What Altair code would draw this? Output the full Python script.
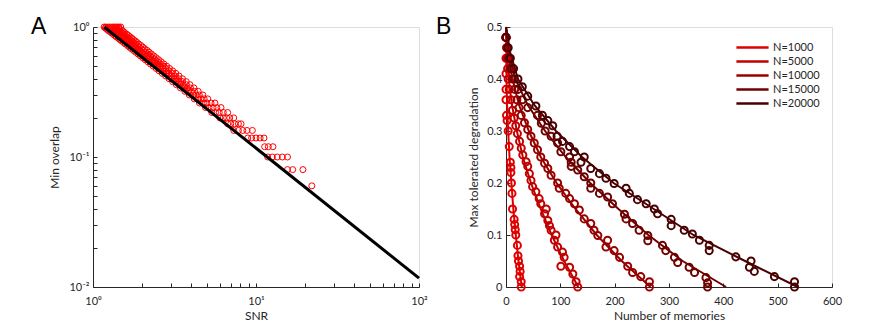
import altair as alt
import pandas as pd

# ---------------- Panel A data ----------------
snr_a = [
    1.17, 1.20, 1.24, 1.28, 1.32, 1.36, 1.40, 1.44, 1.48,
    1.19, 1.25, 1.31, 1.37, 1.44,
    1.22, 1.28, 1.34, 1.40, 1.47,
    1.24, 1.31, 1.37, 1.43, 1.51,
    1.27, 1.34, 1.40, 1.46, 1.54,
    1.30, 1.37, 1.43, 1.50, 1.57,
    1.33, 1.40, 1.46, 1.53, 1.61,
    1.36, 1.43, 1.50, 1.56, 1.65,
    1.39, 1.46, 1.53, 1.60, 1.69,
    1.43, 1.50, 1.57, 1.64, 1.73,
    1.46, 1.54, 1.61, 1.68, 1.77,
    1.50, 1.58, 1.65, 1.73, 1.82,
    1.54, 1.62, 1.69, 1.77, 1.86,
    1.58, 1.66, 1.74, 1.82, 1.91,
    1.63, 1.71, 1.79, 1.87, 1.97,
    1.67, 1.75, 1.84, 1.92, 2.02,
    1.72, 1.81, 1.89, 1.98, 2.08,
    1.77, 1.86, 1.95, 2.04, 2.15,
    1.83, 1.92, 2.01, 2.10, 2.21,
    1.89, 1.98, 2.08, 2.17, 2.28,
    1.95, 2.05, 2.15, 2.24, 2.36,
    2.02, 2.12, 2.22, 2.32, 2.44,
    2.09, 2.19, 2.30, 2.40, 2.53,
    2.17, 2.28, 2.38, 2.49, 2.62,
    2.25, 2.36, 2.48, 2.59, 2.72,
    2.34, 2.46, 2.57, 2.69, 2.83,
    2.44, 2.56, 2.68, 2.80, 2.95,
    2.54, 2.67, 2.80, 2.92, 3.08,
    2.66, 2.79, 2.92, 3.06, 3.22,
    2.79, 2.93, 3.06, 3.20, 3.37,
    2.93, 3.07, 3.22, 3.36, 3.54,
    3.08, 3.23, 3.39, 3.54, 3.73,
    3.25, 3.41, 3.58, 3.74, 3.93,
    3.44, 3.61, 3.79, 3.96, 4.16,
    3.66, 3.84, 4.02, 4.20, 4.42,
    3.90, 4.10, 4.29, 4.49, 4.72,
    4.18, 4.39, 4.60, 4.81, 5.06,
    4.50, 4.75, 5.00, 5.30, 5.60,
    4.90, 5.15, 5.45, 5.75, 6.10,
    5.35, 5.65, 5.95, 6.30, 6.70,
    6.00, 6.30, 6.60, 6.90, 7.30,
    6.70, 7.00, 7.40, 7.80, 8.10,
    7.30, 7.80, 8.30, 8.80, 9.50,
    8.90, 9.40, 10.0, 10.6, 11.2,
    11.3, 11.9, 12.7,
    11.8, 12.6, 13.5, 14.5, 15.6,
    15.6, 16.8, 19.4,
    22.0,
]
overlap_a = (
    [1.00] * 9 + [0.98] * 5 + [0.96] * 5 + [0.94] * 5 + [0.92] * 5 + [0.90] * 5
    + [0.88] * 5 + [0.86] * 5 + [0.84] * 5 + [0.82] * 5 + [0.80] * 5 + [0.78] * 5
    + [0.76] * 5 + [0.74] * 5 + [0.72] * 5 + [0.70] * 5 + [0.68] * 5 + [0.66] * 5
    + [0.64] * 5 + [0.62] * 5 + [0.60] * 5 + [0.58] * 5 + [0.56] * 5 + [0.54] * 5
    + [0.52] * 5 + [0.50] * 5 + [0.48] * 5 + [0.46] * 5 + [0.44] * 5 + [0.42] * 5
    + [0.40] * 5 + [0.38] * 5 + [0.36] * 5 + [0.34] * 5 + [0.32] * 5 + [0.30] * 5
    + [0.28] * 5 + [0.26] * 5 + [0.24] * 5 + [0.22] * 5 + [0.20] * 5 + [0.18] * 5
    + [0.16] * 5 + [0.14] * 5 + [0.12] * 3 + [0.10] * 5 + [0.08] * 3 + [0.06] * 1
)
fit_snr = [1.17, 100.0]
fit_overlap = [1.0, 0.0117]

a_xticks = [1, 2, 3, 4, 5, 6, 7, 8, 9, 10, 20, 30, 40, 50, 60, 70, 80, 90, 100]
a_yticks = [0.01, 0.02, 0.03, 0.04, 0.05, 0.06, 0.07, 0.08, 0.09,
            0.1, 0.2, 0.3, 0.4, 0.5, 0.6, 0.7, 0.8, 0.9, 1]

# ---------------- Panel B data ----------------
series = ["N=1000", "N=5000", "N=10000", "N=15000", "N=20000"]
colors = ["#e00000", "#c20000", "#980000", "#700000", "#4a0000"]

curve_y = [0.5, 0.45, 0.4, 0.35, 0.3, 0.25, 0.2, 0.15, 0.1, 0.05, 0.0]
curve_x_1000 = [0, 0.5, 1, 2, 4, 6.5, 10, 13.5, 18, 23, 29]
curve_x_5000 = [0, 2, 5, 11, 20, 31, 46, 64, 84, 107, 133]
curve_x_10000 = [0, 4, 12, 24, 42, 64, 93, 128, 167, 213, 266]
curve_x_15000 = [0, 6, 17, 40, 72, 110, 155, 207, 262, 325, 405]
curve_x_20000 = [0, 8, 22, 52, 92, 140, 198, 272, 345, 440, 537]

pts_x_1000 = [0, 0, 0, 0, 0, 1, 2, 4, 6, 8, 9, 9, 10, 11, 12, 15, 16, 17, 18, 21, 22, 23, 25, 26, 25, 28, 28]
pts_y_1000 = [0.48, 0.44, 0.41, 0.38, 0.36, 0.33, 0.32, 0.30, 0.27, 0.24, 0.23, 0.22, 0.20, 0.18, 0.15,
              0.13, 0.12, 0.11, 0.10, 0.08, 0.06, 0.05, 0.04, 0.03, 0.02, 0.01, 0.0]
pts_x_5000 = [0, 1, 2, 3, 4, 6, 9, 12, 15, 18, 21, 25, 28, 31, 37, 40, 43, 46, 49, 55, 61, 64, 74, 71,
              77, 80, 83, 92, 89, 95, 104, 107, 101, 117, 123, 129, 132]
pts_y_5000 = [0.48, 0.46, 0.44, 0.42, 0.40, 0.38, 0.36, 0.34, 0.325, 0.31, 0.295, 0.28, 0.267, 0.254,
              0.241, 0.232, 0.218, 0.205, 0.193, 0.183, 0.17, 0.16, 0.15, 0.141, 0.128, 0.118, 0.109,
              0.10, 0.09, 0.077, 0.067, 0.057, 0.04, 0.038, 0.025, 0.01, 0.0]
pts_x_10000 = [0, 2, 4, 8, 12, 16, 20, 24, 28, 34, 40, 46, 52, 58, 64, 71, 77, 83, 95, 98, 110, 117,
               126, 135, 144, 156, 162, 169, 187, 184, 199, 209, 224, 233, 248, 264, 264]
pts_y_10000 = [0.48, 0.46, 0.44, 0.42, 0.40, 0.38, 0.36, 0.345, 0.33, 0.316, 0.303, 0.29, 0.277, 0.264,
               0.25, 0.238, 0.228, 0.215, 0.2, 0.19, 0.18, 0.17, 0.16, 0.148, 0.131, 0.122, 0.109,
               0.099, 0.09, 0.077, 0.07, 0.057, 0.04, 0.028, 0.02, 0.01, 0.0]
pts_x_15000 = [0, 3, 6, 10, 15, 22, 30, 40, 58, 65, 72, 83, 95, 101, 117, 120, 120, 132, 144, 156, 156,
               172, 187, 196, 218, 221, 233, 245, 261, 261, 288, 294, 310, 316, 337, 347, 368, 371, 371]
pts_y_15000 = [0.48, 0.46, 0.44, 0.42, 0.40, 0.38, 0.36, 0.345, 0.33, 0.315, 0.30, 0.29, 0.277, 0.26,
               0.25, 0.24, 0.232, 0.225, 0.212, 0.2, 0.19, 0.18, 0.173, 0.16, 0.14, 0.131, 0.122,
               0.109, 0.099, 0.089, 0.08, 0.07, 0.057, 0.047, 0.038, 0.028, 0.018, 0.008, 0.0]
pts_x_20000 = [0, 4, 8, 14, 22, 30, 40, 55, 67, 77, 86, 94, 104, 117, 126, 144, 138, 156, 172, 184,
               199, 221, 227, 242, 258, 273, 279, 304, 304, 328, 343, 356, 374, 374, 423, 451, 448,
               457, 494, 531, 531]
pts_y_20000 = [0.48, 0.46, 0.44, 0.42, 0.40, 0.385, 0.367, 0.348, 0.33, 0.32, 0.31, 0.29, 0.28, 0.27,
               0.26, 0.25, 0.24, 0.228, 0.218, 0.209, 0.199, 0.19, 0.18, 0.168, 0.16, 0.15, 0.141,
               0.13, 0.118, 0.109, 0.102, 0.09, 0.08, 0.07, 0.058, 0.05, 0.038, 0.03, 0.02, 0.01, 0.0]

b_xticks = [0, 100, 200, 300, 400, 500, 600]
b_yticks = [0, 0.1, 0.2, 0.3, 0.4, 0.5]

# ---------------- build tables ----------------
df_a = pd.DataFrame({"snr": snr_a, "overlap": overlap_a})
df_fit = pd.DataFrame({"snr": fit_snr, "overlap": fit_overlap})

curve_xs = [curve_x_1000, curve_x_5000, curve_x_10000, curve_x_15000, curve_x_20000]
pts_xs = [pts_x_1000, pts_x_5000, pts_x_10000, pts_x_15000, pts_x_20000]
pts_ys = [pts_y_1000, pts_y_5000, pts_y_10000, pts_y_15000, pts_y_20000]

rows_c, rows_p = [], []
for i, name in enumerate(series):
    for j, (x, y) in enumerate(zip(curve_xs[i], curve_y)):
        rows_c.append({"n": name, "order": i, "idx": j, "x": x, "y": y})
    for x, y in zip(pts_xs[i], pts_ys[i]):
        rows_p.append({"n": name, "order": i, "x": x, "y": y})
df_c = pd.DataFrame(rows_c)
df_p = pd.DataFrame(rows_p)

FONT = "Lato"
PANEL_FONT = "Liberation Sans"
INK = "#262626"
TICK_IN = {"expr": "-4"}

def axis(**kw):
    base = dict(grid=False, domainColor=INK, tickColor=INK, labelColor=INK, titleColor=INK,
                labelFont=FONT, titleFont=FONT, labelFontSize=11, titleFontSize=12,
                titleFontWeight="normal", tickSize=TICK_IN, domainWidth=1, tickWidth=1,
                labelFlush=False, labelOverlap=False)
    base.update(kw)
    return alt.Axis(**base)

W, H = 326, 260

xa = alt.X("snr:Q", scale=alt.Scale(type="log", domain=[1, 100]),
           axis=axis(values=a_xticks, title="SNR", labelPadding=12, titlePadding=4,
                     labelExpr="datum.value == 1 ? '10⁰' : datum.value == 10 ? '10¹' : datum.value == 100 ? '10²' : ''"))
ya = alt.Y("overlap:Q", scale=alt.Scale(type="log", domain=[0.01, 1]),
           axis=axis(values=a_yticks, title="Min overlap", labelPadding=8, titlePadding=7,
                     labelExpr="datum.value == 1 ? '10⁰' : datum.value == 0.1 ? '10⁻¹' : datum.value == 0.01 ? '10⁻²' : ''"))

scatter = alt.Chart(df_a).mark_point(shape="circle", filled=False, color="#ff0000", opacity=1,
                                     size=36, strokeWidth=1).encode(x=xa, y=ya)
fit = alt.Chart(df_fit).mark_line(color="black", strokeWidth=3).encode(x="snr:Q", y="overlap:Q")
label_a = alt.Chart(pd.DataFrame({"t": ["A"]})).mark_text(
    text="A", fontSize=23, font=PANEL_FONT, align="left", baseline="alphabetic", color="black"
).encode(x=alt.value(-62), y=alt.value(7))

panel_a = alt.layer(scatter, fit, label_a).properties(width=W, height=H)

xb = alt.X("x:Q", scale=alt.Scale(domain=[0, 600]),
           axis=axis(values=b_xticks, title="Number of memories", labelPadding=12, titlePadding=4))
yb = alt.Y("y:Q", scale=alt.Scale(domain=[0, 0.5]),
           axis=axis(values=b_yticks, title="Max tolerated degradation", labelPadding=8,
                     titlePadding=6, format="~g"))

color_scale = alt.Scale(domain=series, range=colors)
lines_b = alt.Chart(df_c).mark_line(strokeWidth=2).encode(
    x=xb, y=yb,
    color=alt.Color("n:N", scale=color_scale,
                    legend=alt.Legend(title=None, orient="top-right", symbolType="M-2.3,0H2.3",
                                      symbolSize=196, symbolStrokeWidth=2.5, labelFont=FONT,
                                      labelFontSize=11, labelColor=INK, rowPadding=0,
                                      labelOffset=12, offset=12, padding=0)),
    detail="n:N", order="idx:Q")
points_b = alt.Chart(df_p).mark_point(shape="circle", filled=False, size=50, strokeWidth=2,
                                      opacity=1).encode(
    x="x:Q", y="y:Q",
    color=alt.Color("n:N", scale=color_scale, legend=None))
label_b = alt.Chart(pd.DataFrame({"t": ["B"]})).mark_text(
    text="B", fontSize=23, font=PANEL_FONT, align="left", baseline="alphabetic", color="black"
).encode(x=alt.value(-70), y=alt.value(7))

panel_b = alt.layer(lines_b, points_b, label_b).properties(width=W, height=H)

chart = alt.hconcat(panel_a, panel_b, spacing=7).resolve_scale(
    color="independent"
).resolve_legend(color="independent").properties(
    padding={"left": 22, "top": 7, "right": 5, "bottom": 5}
).configure_view(stroke=None).configure(background="white")

chart.save("out.html", embed_options={"renderer": "svg", "actions": False})
